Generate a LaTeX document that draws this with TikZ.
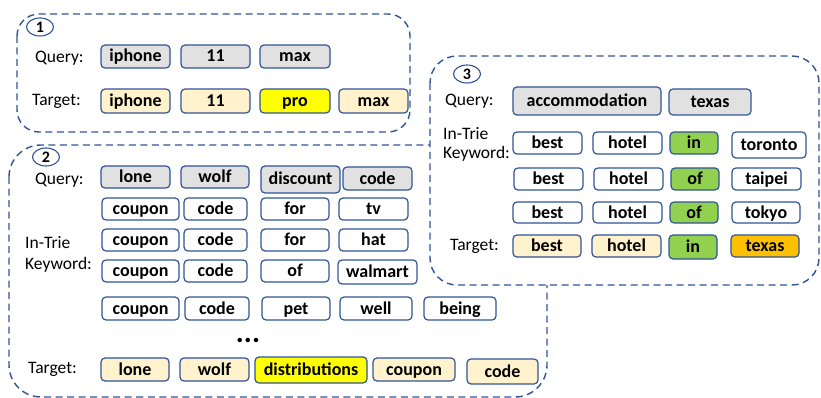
\documentclass[tikz,border=0pt]{standalone}
\usepackage{fontspec}
\setmainfont{Carlito}
\usetikzlibrary{shapes.geometric}
\definecolor{edgeblue}{HTML}{2F5597}
\definecolor{qgray}{HTML}{E1E1E1}
\definecolor{cream}{HTML}{FFF2CC}
\definecolor{hiyel}{HTML}{FFFF00}
\definecolor{higreen}{HTML}{92D050}
\definecolor{hiorange}{HTML}{FFC000}
\tikzset{
  kwbox/.style={draw=edgeblue, line width=1.2pt, rounded corners=4pt, inner sep=0pt,
    font=\fontsize{18}{18}\selectfont\bfseries, text=black, text height=15pt, text depth=4pt},
  qb/.style={kwbox, fill=qgray},
  wb/.style={kwbox, fill=white},
  tb/.style={kwbox, fill=cream},
  yb/.style={kwbox, fill=hiyel},
  gb/.style={kwbox, fill=higreen},
  ob/.style={kwbox, fill=hiorange},
  lbl/.style={anchor=west, inner sep=0pt, font=\fontsize{17.5}{17.5}\selectfont},
  group/.style={draw=edgeblue, line width=1.4pt, dash pattern=on 7pt off 4.5pt},
  numcirc/.style={ellipse, draw=edgeblue, line width=1.1pt, inner sep=0pt,
    minimum width=27pt, minimum height=18pt, font=\fontsize{16}{16}\selectfont\bfseries}
}
% name, style, x1, x2, y1, y2, text
\newcommand\kwnode[7]{%
  \node[#2, minimum width={#4-#3}, minimum height={#6-#5}] (#1) at ({(#3+#4)/2},{(#5+#6)/2}) {#7};}
\begin{document}
\begin{tikzpicture}[x=1pt,y=-1pt]
\useasboundingbox (0,0) rectangle (821,398);
% ---------- group 1 ----------
\draw[group, rounded corners=22pt] (17,14) rectangle (410,132);
\node[numcirc] (c1) at (40,27) {1};
\node[lbl] (q1) at (35,58) {Query:};
\node[lbl] (t1) at (32,101) {Target:};
\kwnode{a1}{qb}{101}{170}{45}{68}{iphone}
\kwnode{a2}{qb}{181}{250}{45}{68}{11}
\kwnode{a3}{qb}{260}{330}{45}{68}{max}
\kwnode{b1}{tb}{101}{170}{89}{113}{iphone}
\kwnode{b2}{tb}{181}{250}{89}{113}{11}
\kwnode{b3}{yb}{260}{330}{89}{113}{pro}
\kwnode{b4}{tb}{339}{408}{89}{113}{max}
% ---------- group 2 ----------
\draw[group, rounded corners=32pt] (9,145) rectangle (547,397);
\node[numcirc] (c2) at (46,157) {2};
\node[lbl] (q2) at (35,180) {Query:};
\node[lbl] (k2a) at (25,243) {In-Trie};
\node[lbl] (k2b) at (25,265) {Keyword:};
\node[lbl] (t2) at (28,369) {Target:};
\kwnode{d1}{qb}{101}{170}{166}{188}{lone}
\kwnode{d2}{qb}{181}{249}{166}{188}{wolf}
\kwnode{d3}{qb}{261}{340}{166}{193}{discount}
\kwnode{d4}{qb}{343}{412}{167}{190}{code}
\kwnode{e1}{wb}{102}{179}{198}{220}{coupon}
\kwnode{e2}{wb}{184}{247}{198}{220}{code}
\kwnode{e3}{wb}{261}{329}{198}{220}{for}
\kwnode{e4}{wb}{339}{408}{198}{220}{tv}
\kwnode{f1}{wb}{102}{179}{229}{251}{coupon}
\kwnode{f2}{wb}{184}{247}{229}{251}{code}
\kwnode{f3}{wb}{261}{329}{229}{251}{for}
\kwnode{f4}{wb}{339}{408}{229}{251}{hat}
\kwnode{g1}{wb}{102}{179}{260}{282}{coupon}
\kwnode{g2}{wb}{184}{247}{260}{282}{code}
\kwnode{g3}{wb}{261}{329}{260}{282}{of}
\kwnode{g4}{wb}{338}{417}{260}{284}{walmart}
\kwnode{h1}{wb}{102}{179}{297}{320}{coupon}
\kwnode{h2}{wb}{185}{249}{297}{320}{code}
\kwnode{h3}{wb}{262}{330}{297}{320}{pet}
\kwnode{h4}{wb}{340}{412}{297}{320}{well}
\kwnode{h5}{wb}{424}{496}{297}{320}{being}
\node[inner sep=0pt, font=\fontsize{30}{30}\selectfont\bfseries] (dots) at (248,340) {...};
\kwnode{i1}{tb}{101}{169}{358}{381}{lone}
\kwnode{i2}{tb}{180}{249}{358}{381}{wolf}
\kwnode{i3}{yb}{255}{367}{357}{383}{distributions}
\kwnode{i4}{tb}{373}{455}{358}{381}{coupon}
\kwnode{i5}{tb}{467}{538}{359}{384}{code}
% ---------- group 3 ----------
\draw[group, fill=white, rounded corners=27pt] (430,56) rectangle (819,285);
\node[numcirc] (c3) at (467,74) {3};
\node[lbl] (q3) at (445,101) {Query:};
\node[lbl] (k3a) at (443,134) {In-Trie};
\node[lbl] (k3b) at (443,154) {Keyword:};
\node[lbl] (t3) at (450,246) {Target:};
\kwnode{m1}{qb}{513}{661}{87}{115}{accommodation}
\kwnode{m2}{qb}{669}{751}{89}{115}{texas}
\kwnode{n1}{wb}{513}{582}{132}{154}{best}
\kwnode{n2}{wb}{593}{662}{132}{154}{hotel}
\kwnode{n3}{gb}{670}{718}{132}{154}{in}
\kwnode{n4}{wb}{732}{806}{132}{158}{toronto}
\kwnode{o1}{wb}{514}{583}{168}{190}{best}
\kwnode{o2}{wb}{594}{663}{168}{190}{hotel}
\kwnode{o3}{gb}{671}{719}{168}{190}{of}
\kwnode{o4}{wb}{732}{801}{168}{190}{taipei}
\kwnode{p1}{wb}{513}{582}{202}{223}{best}
\kwnode{p2}{wb}{593}{662}{202}{223}{hotel}
\kwnode{p3}{gb}{670}{718}{202}{223}{of}
\kwnode{p4}{wb}{732}{800}{202}{223}{tokyo}
\kwnode{r1}{tb}{513}{581}{235}{257}{best}
\kwnode{r2}{tb}{592}{661}{235}{257}{hotel}
\kwnode{r3}{gb}{669}{717}{235}{259}{in}
\kwnode{r4}{ob}{731}{799}{235}{257}{texas}
\end{tikzpicture}
\end{document}
